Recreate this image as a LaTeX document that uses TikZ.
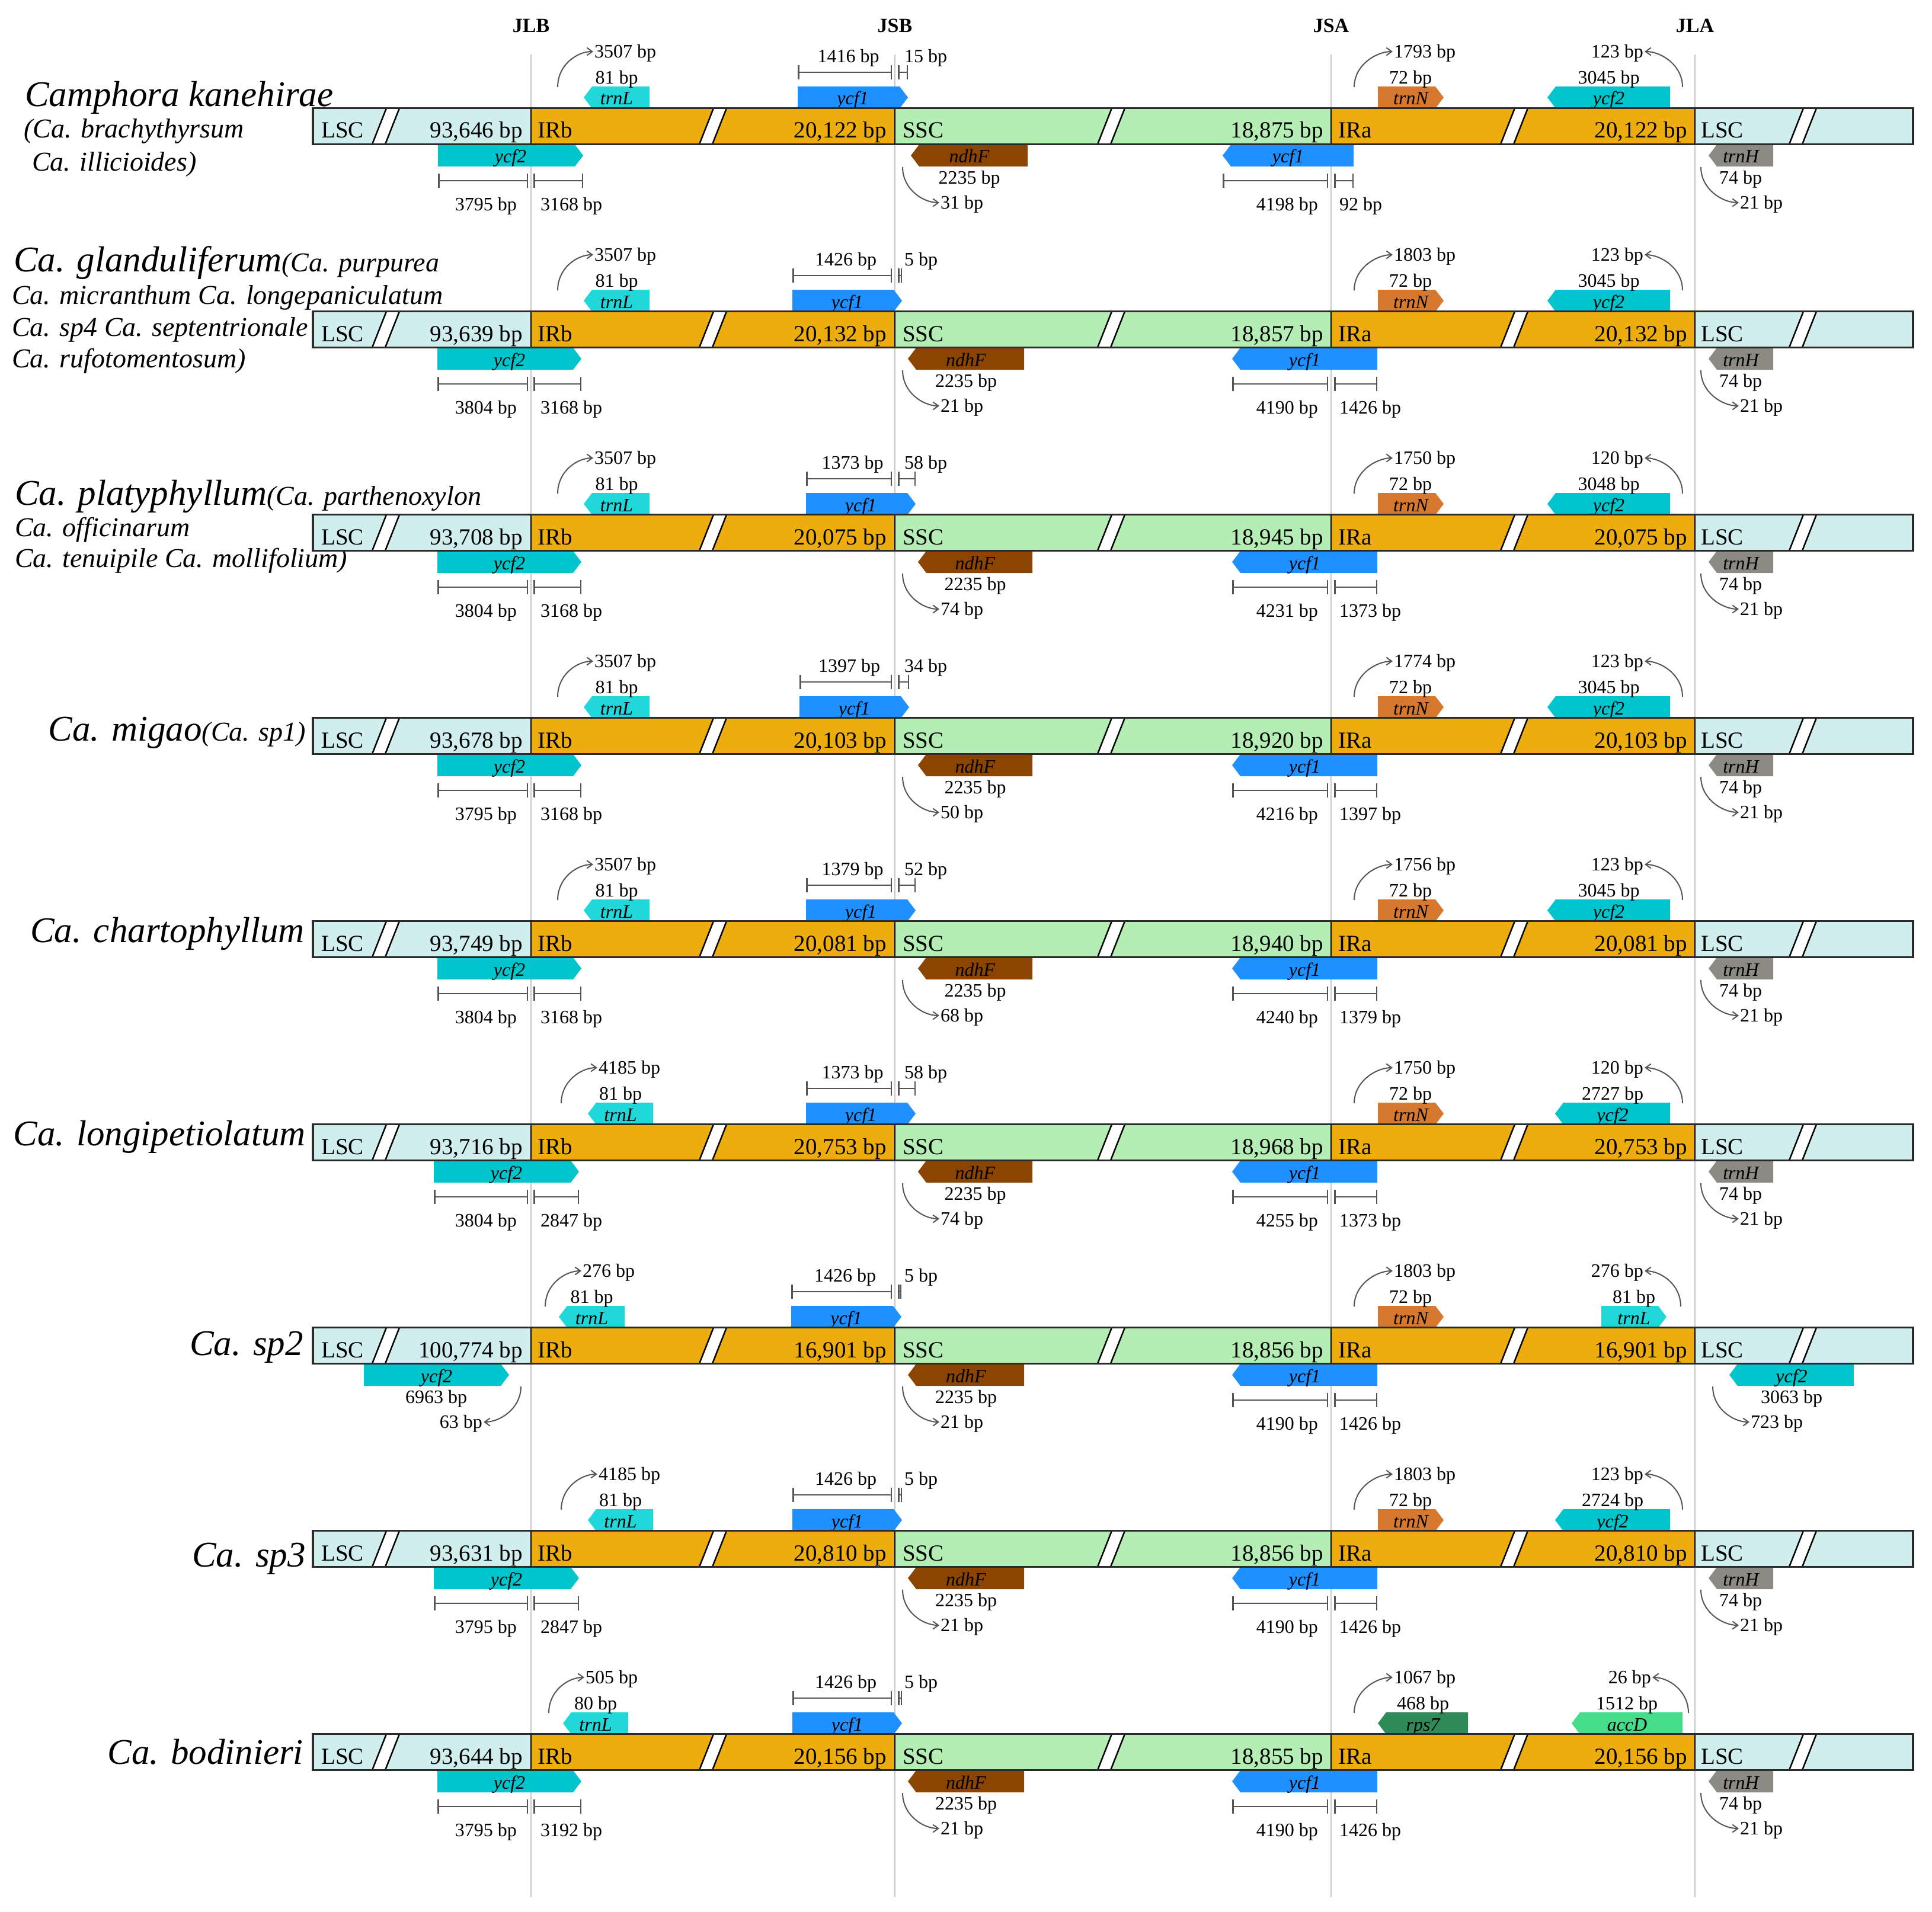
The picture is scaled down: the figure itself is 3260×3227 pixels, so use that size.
\documentclass[tikz,border=0pt]{standalone}
\usepackage{fontspec}
\setmainfont{Liberation Serif}
\usetikzlibrary{arrows.meta}
\definecolor{lscc}{HTML}{D1EEEE}
\definecolor{irc}{HTML}{EEAD0E}
\definecolor{sscc}{HTML}{B4EEB4}
\definecolor{ycftwo}{HTML}{00C5CD}
\definecolor{trnlc}{HTML}{20D8DA}
\definecolor{ycfone}{HTML}{1E90FF}
\definecolor{ndhfc}{HTML}{8B4500}
\definecolor{trnnc}{HTML}{D6792F}
\definecolor{trnhc}{HTML}{8B8B83}
\definecolor{rpsc}{HTML}{2E8B57}
\definecolor{accdc}{HTML}{45DC8A}
\definecolor{vgray}{HTML}{C8C8C8}
\definecolor{agray}{HTML}{555555}
\definecolor{outl}{HTML}{2A2A2A}
\tikzset{
 small/.style={font=\fontsize{32}{34}\selectfont, inner sep=0pt, text height=21pt, text depth=0pt},
 glab/.style={font=\itshape\fontsize{32}{34}\selectfont, inner sep=0pt, anchor=base},
 bartxt/.style={font=\fontsize{39}{41}\selectfont, inner sep=0pt},
 hdr/.style={font=\bfseries\fontsize{34}{36}\selectfont, inner sep=0pt, anchor=base},
 spbig/.style={font=\itshape\fontsize{61}{63}\selectfont, inner sep=0pt},
 spsm/.style={font=\itshape\fontsize{46}{48}\selectfont, inner sep=0pt},
 carr/.style={draw=agray, line width=2pt, -{Straight Barb[length=9pt,width=13pt]}, shorten >=2pt},
 sbarst/.style={draw=agray, line width=2.5pt, {Bar[width=24pt]}-{Bar[width=24pt]}},
 vline/.style={draw=vgray, line width=2.5pt},
 slashst/.style={fill=white, draw=black, line width=2.5pt},
 divst/.style={draw=black, line width=2.5pt},
 outst/.style={draw=outl, line width=3.5pt},
}
% genes
\newcommand{\gUpL}[5]{\fill[#4] (#2,-48.5) -- ({#2+14},-67) -- (#3,-67) -- (#3,-30) -- ({#2+14},-30) -- cycle;
 \node[glab] (#1) at ({(#2+#3)/2},-36) {#5};}
\newcommand{\gUpR}[5]{\fill[#4] (#2,-67) -- ({#3-14},-67) -- (#3,-48.5) -- ({#3-14},-30) -- (#2,-30) -- cycle;
 \node[glab] (#1) at ({(#2+#3)/2},-36) {#5};}
\newcommand{\gDnL}[5]{\fill[#4] (#2,49.5) -- ({#2+14},31) -- (#3,31) -- (#3,68) -- ({#2+14},68) -- cycle;
 \node[glab] (#1) at ({(#2+#3)/2},62) {#5};}
\newcommand{\gDnR}[5]{\fill[#4] (#2,31) -- ({#3-14},31) -- (#3,49.5) -- ({#3-14},68) -- (#2,68) -- cycle;
 \node[glab] (#1) at ({(#2+#3)/2},62) {#5};}
% curved arrows
\newcommand{\arrUR}[4]{\coordinate (#1s) at (#2,-66);
 \node[small,anchor=west] (#1) at (#3,-126) {#4};
 \draw[carr] (#1s) .. controls +(0,-37) and +(-30,0) .. (#1.west);}
\newcommand{\arrUL}[4]{\coordinate (#1s) at (#2,-66);
 \node[small,anchor=east] (#1) at (#3,-126) {#4};
 \draw[carr] (#1s) .. controls +(0,-37) and +(30,0) .. (#1.east);}
\newcommand{\arrDR}[4]{\coordinate (#1s) at (#2,69);
 \node[small,anchor=west] (#1) at (#3,129) {#4};
 \draw[carr] (#1s) .. controls +(0,37) and +(-30,0) .. (#1.west);}
\newcommand{\arrDL}[4]{\coordinate (#1s) at (#2,69);
 \node[small,anchor=east] (#1) at (#3,129) {#4};
 \draw[carr] (#1s) .. controls +(0,37) and +(30,0) .. (#1.east);}
% scale bar
\newcommand{\sbar}[4]{\coordinate (#1a) at (#2,#4); \coordinate (#1b) at (#3,#4); \draw[sbarst] (#1a) -- (#1b);}
% groups
\newcommand{\jlbUp}[7]{\gUpL{#1trnL}{#2}{#3}{trnlc}{trnL}
 \node[small] (#1trnLlen) at ({(#2+#3)/2},-82) {#4};
 \arrUR{#1trnLarr}{#5}{#6}{#7}}
\newcommand{\jlbLow}[5]{\gDnR{#1ycf2}{#2}{#3}{ycftwo}{ycf2}
 \sbar{#1sa}{#2}{891}{92}\sbar{#1sb}{900}{#3}{92}
 \node[small,anchor=east] (#1sat) at (872,132) {#4};
 \node[small,anchor=west] (#1sbt) at (912,132) {#5};}
\newcommand{\jsbUp}[5]{\gUpR{#1ycf1}{#2}{#3}{ycfone}{ycf1}
 \sbar{#1sc}{#2}{1505}{-91}\sbar{#1sd}{1515}{#3}{-91}
 \node[small] (#1sct) at ({(#2+1505)/2+6},-118) {#4};
 \node[small,anchor=west] (#1sdt) at (1526,-118) {#5};}
\newcommand{\jsbLow}[5]{\gDnL{#1ndhF}{#2}{#3}{ndhfc}{ndhF}
 \node[small] (#1ndhFlen) at ({(#2+#3)/2},87) {#4};
 \arrDR{#1ndhFarr}{1523}{1587}{#5}}
\newcommand{\jsaLow}[5]{\gDnL{#1ycfb}{#2}{#3}{ycfone}{ycf1}
 \sbar{#1se}{#2}{2241}{92}\sbar{#1sf}{2251}{#3}{92}
 \node[small,anchor=east] (#1set) at (2224,132) {#4};
 \node[small,anchor=west] (#1sft) at (2260,132) {#5};}
\newcommand{\jsaUp}[3]{\gUpR{#1trnN}{2325}{2436}{trnnc}{trnN}
 \node[small] (#1trnNlen) at (2380,-82) {#2};
 \arrUR{#1trnNarr}{2285}{2352}{#3}}
\newcommand{\jlaUp}[4]{\gUpL{#1ycfc}{#2}{2818}{ycftwo}{ycf2}
 \node[small] (#1ycfclen) at ({(#2+2818)/2},-82) {#3};
 \arrUL{#1ycfcarr}{2839}{2773}{#4}}
\newcommand{\jlaLow}[1]{\gDnL{#1trnH}{2883}{2992}{trnhc}{trnH}
 \node[small] (#1trnHlen) at (2937,87) {74 bp};
 \arrDR{#1trnHarr}{2870}{2936}{21 bp}}
% bar
\newcommand{\cpbar}[4]{%
 \fill[lscc] (528,-30.5) rectangle (896,30.5);
 \fill[irc] (896,-30.5) rectangle (1510,30.5);
 \fill[sscc] (1510,-30.5) rectangle (2246,30.5);
 \fill[irc] (2246,-30.5) rectangle (2860,30.5);
 \fill[lscc] (2860,-30.5) rectangle (3228,30.5);
 \foreach \sx in {651,1203,1875,2555,3042}{\draw[slashst] ({\sx-23},30.5) -- ({\sx-1},30.5) -- ({\sx+23},-30.5) -- ({\sx+1},-30.5) -- cycle;}
 \foreach \dx in {896,1510,2246,2860}{\draw[divst] (\dx,-30.5) -- (\dx,30.5);}
 \draw[outst] (528,-30.5) rectangle (3228,30.5);
 \node[bartxt,anchor=base west] (#1lscA) at (542,20) {LSC};
 \node[bartxt,anchor=base east] (#1lscbp) at (882,20) {#2};
 \node[bartxt,anchor=base west] (#1irb) at (907,20) {IRb};
 \node[bartxt,anchor=base east] (#1irbbp) at (1496,20) {#3};
 \node[bartxt,anchor=base west] (#1ssc) at (1523,20) {SSC};
 \node[bartxt,anchor=base east] (#1sscbp) at (2233,20) {#4};
 \node[bartxt,anchor=base west] (#1ira) at (2258,20) {IRa};
 \node[bartxt,anchor=base east] (#1irabp) at (2847,20) {#3};
 \node[bartxt,anchor=base west] (#1lscB) at (2870,20) {LSC};}
\begin{document}
\begin{tikzpicture}[x=1pt,y=-1pt]
\useasboundingbox (0,0) rectangle (3260,3227);
\fill[white] (0,0) rectangle (3260,3227);
% junction lines and headers
\foreach \vx/\vn in {896/jlb,1510/jsb,2246/jsa,2860/jla}{\coordinate (\vn t) at (\vx,92); \coordinate (\vn b) at (\vx,3202); \draw[vline] (\vn t) -- (\vn b);}
\node[hdr] (hJLB) at (896,55) {JLB};
\node[hdr] (hJSB) at (1510,55) {JSB};
\node[hdr] (hJSA) at (2246,55) {JSA};
\node[hdr] (hJLA) at (2860,55) {JLA};
% species labels
\node[spbig,anchor=base west] (sp1) at (42,180) {Camphora kanehirae};
\node[spsm,anchor=base west] (sp1b) at (40,233) {(Ca. brachythyrsum};
\node[spsm,anchor=base west] (sp1c) at (54,288) {Ca. illicioides)};
\node[spsm,anchor=base west] (sp2) at (23,458) {{\fontsize{61}{63}\selectfont Ca. glanduliferum}(Ca. purpurea};
\node[spsm,anchor=base west] (sp2b) at (20,513) {Ca. micranthum Ca. longepaniculatum};
\node[spsm,anchor=base west] (sp2c) at (20,567) {Ca. sp4 Ca. septentrionale};
\node[spsm,anchor=base west] (sp2d) at (20,620) {Ca. rufotomentosum)};
\node[spsm,anchor=base west] (sp3) at (25,852) {{\fontsize{61}{63}\selectfont Ca. platyphyllum}(Ca. parthenoxylon};
\node[spsm,anchor=base west] (sp3b) at (25,905) {Ca. officinarum};
\node[spsm,anchor=base west] (sp3c) at (25,957) {Ca. tenuipile Ca. mollifolium)};
\node[spsm,anchor=base east] (sp4) at (516,1250) {{\fontsize{61}{63}\selectfont Ca. migao}(Ca. sp1)};
\node[spbig,anchor=base east] (sp5) at (514,1590) {Ca. chartophyllum};
\node[spbig,anchor=base east] (sp6) at (516,1933) {Ca. longipetiolatum};
\node[spbig,anchor=base east] (sp7) at (512,2287) {Ca. sp2};
\node[spbig,anchor=base east] (sp8) at (516,2644) {Ca. sp3};
\node[spbig,anchor=base east] (sp9) at (512,2977) {Ca. bodinieri};
% row 1
\begin{scope}[shift={(0,213)}]
\jlbUp{r1}{985}{1096}{81 bp}{941}{1003}{3507 bp}
\jlbLow{r1}{739}{984}{3795 bp}{3168 bp}
\jsbUp{r1}{1346}{1532}{1416 bp}{15 bp}
\jsbLow{r1}{1537}{1734}{2235 bp}{31 bp}
\jsaLow{r1}{2063}{2284}{4198 bp}{92 bp}
\jsaUp{r1}{72 bp}{1793 bp}
\jlaUp{r1}{2611}{3045 bp}{123 bp}
\jlaLow{r1}
\cpbar{r1}{93,646 bp}{20,122 bp}{18,875 bp}
\end{scope}
% row 2
\begin{scope}[shift={(0,556)}]
\jlbUp{r2}{985}{1096}{81 bp}{941}{1003}{3507 bp}
\jlbLow{r2}{738}{981}{3804 bp}{3168 bp}
\jsbUp{r2}{1337}{1522}{1426 bp}{5 bp}
\jsbLow{r2}{1532}{1728}{2235 bp}{21 bp}
\jsaLow{r2}{2079}{2324}{4190 bp}{1426 bp}
\jsaUp{r2}{72 bp}{1803 bp}
\jlaUp{r2}{2611}{3045 bp}{123 bp}
\jlaLow{r2}
\cpbar{r2}{93,639 bp}{20,132 bp}{18,857 bp}
\end{scope}
% row 3
\begin{scope}[shift={(0,899)}]
\jlbUp{r3}{985}{1096}{81 bp}{941}{1003}{3507 bp}
\jlbLow{r3}{738}{981}{3804 bp}{3168 bp}
\jsbUp{r3}{1360}{1545}{1373 bp}{58 bp}
\jsbLow{r3}{1549}{1742}{2235 bp}{74 bp}
\jsaLow{r3}{2079}{2324}{4231 bp}{1373 bp}
\jsaUp{r3}{72 bp}{1750 bp}
\jlaUp{r3}{2611}{3048 bp}{120 bp}
\jlaLow{r3}
\cpbar{r3}{93,708 bp}{20,075 bp}{18,945 bp}
\end{scope}
% row 4
\begin{scope}[shift={(0,1242)}]
\jlbUp{r4}{985}{1096}{81 bp}{941}{1003}{3507 bp}
\jlbLow{r4}{738}{981}{3795 bp}{3168 bp}
\jsbUp{r4}{1349}{1534}{1397 bp}{34 bp}
\jsbLow{r4}{1549}{1742}{2235 bp}{50 bp}
\jsaLow{r4}{2079}{2324}{4216 bp}{1397 bp}
\jsaUp{r4}{72 bp}{1774 bp}
\jlaUp{r4}{2611}{3045 bp}{123 bp}
\jlaLow{r4}
\cpbar{r4}{93,678 bp}{20,103 bp}{18,920 bp}
\end{scope}
% row 5
\begin{scope}[shift={(0,1585)}]
\jlbUp{r5}{985}{1096}{81 bp}{941}{1003}{3507 bp}
\jlbLow{r5}{738}{981}{3804 bp}{3168 bp}
\jsbUp{r5}{1360}{1545}{1379 bp}{52 bp}
\jsbLow{r5}{1549}{1742}{2235 bp}{68 bp}
\jsaLow{r5}{2079}{2324}{4240 bp}{1379 bp}
\jsaUp{r5}{72 bp}{1756 bp}
\jlaUp{r5}{2611}{3045 bp}{123 bp}
\jlaLow{r5}
\cpbar{r5}{93,749 bp}{20,081 bp}{18,940 bp}
\end{scope}
% row 6
\begin{scope}[shift={(0,1928)}]
\jlbUp{r6}{992}{1102}{81 bp}{947}{1010}{4185 bp}
\jlbLow{r6}{732}{977}{3804 bp}{2847 bp}
\jsbUp{r6}{1360}{1545}{1373 bp}{58 bp}
\jsbLow{r6}{1549}{1742}{2235 bp}{74 bp}
\jsaLow{r6}{2079}{2324}{4255 bp}{1373 bp}
\jsaUp{r6}{72 bp}{1750 bp}
\jlaUp{r6}{2624}{2727 bp}{120 bp}
\jlaLow{r6}
\cpbar{r6}{93,716 bp}{20,753 bp}{18,968 bp}
\end{scope}
% row 7
\begin{scope}[shift={(0,2271)}]
\jlbUp{r7}{943}{1054}{81 bp}{920}{983}{276 bp}
\gDnR{r7ycf2}{614}{859}{ycftwo}{ycf2}
\node[small] (r7ycf2len) at (736,87) {6963 bp};
\arrDL{r7ycf2arr}{879}{814}{63 bp}
\jsbUp{r7}{1335}{1521}{1426 bp}{5 bp}
\jsbLow{r7}{1532}{1728}{2235 bp}{21 bp}
\jsaLow{r7}{2079}{2324}{4190 bp}{1426 bp}
\jsaUp{r7}{72 bp}{1803 bp}
\gUpR{r7trnLb}{2702}{2812}{trnlc}{trnL}
\node[small] (r7trnLblen) at (2757,-82) {81 bp};
\arrUL{r7trnLbarr}{2836}{2773}{276 bp}
\gDnL{r7ycf2b}{2918}{3128}{ycftwo}{ycf2}
\node[small] (r7ycf2blen) at (3023,87) {3063 bp};
\arrDR{r7ycf2barr}{2890}{2954}{723 bp}
\cpbar{r7}{100,774 bp}{16,901 bp}{18,856 bp}
\end{scope}
% row 8
\begin{scope}[shift={(0,2614)}]
\jlbUp{r8}{992}{1102}{81 bp}{947}{1010}{4185 bp}
\jlbLow{r8}{732}{977}{3795 bp}{2847 bp}
\jsbUp{r8}{1337}{1522}{1426 bp}{5 bp}
\jsbLow{r8}{1532}{1728}{2235 bp}{21 bp}
\jsaLow{r8}{2079}{2324}{4190 bp}{1426 bp}
\jsaUp{r8}{72 bp}{1803 bp}
\jlaUp{r8}{2624}{2724 bp}{123 bp}
\jlaLow{r8}
\cpbar{r8}{93,631 bp}{20,810 bp}{18,856 bp}
\end{scope}
% row 9
\begin{scope}[shift={(0,2957)}]
\jlbUp{r9}{950}{1060}{80 bp}{926}{988}{505 bp}
\jlbLow{r9}{738}{981}{3795 bp}{3192 bp}
\jsbUp{r9}{1337}{1522}{1426 bp}{5 bp}
\jsbLow{r9}{1532}{1728}{2235 bp}{21 bp}
\jsaLow{r9}{2079}{2324}{4190 bp}{1426 bp}
\gUpL{r9rps}{2325}{2477}{rpsc}{rps7}
\node[small] (r9rpslen) at (2401,-82) {468 bp};
\arrUR{r9rpsarr}{2285}{2352}{1067 bp}
\gUpL{r9accD}{2652}{2839}{accdc}{accD}
\node[small] (r9accDlen) at (2745,-82) {1512 bp};
\arrUL{r9accDarr}{2849}{2786}{26 bp}
\jlaLow{r9}
\cpbar{r9}{93,644 bp}{20,156 bp}{18,855 bp}
\end{scope}
\end{tikzpicture}
\end{document}
